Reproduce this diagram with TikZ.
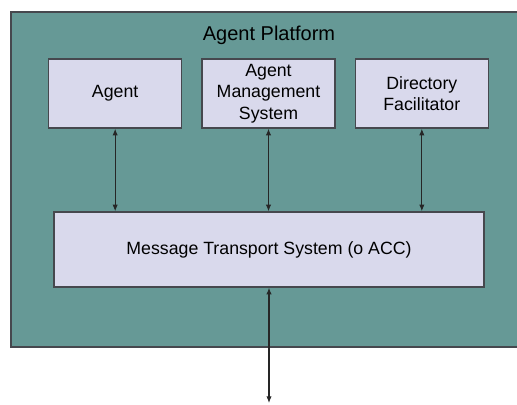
\documentclass[tikz,border=0pt]{standalone}
\usepackage{fontspec}
\setmainfont{Liberation Sans}
\usetikzlibrary{arrows.meta,positioning}
\definecolor{platteal}{RGB}{102,153,150}
\definecolor{boxlilac}{RGB}{217,217,236}
\definecolor{edgegray}{RGB}{70,72,78}
\tikzset{
  basebox/.style={rectangle,draw=edgegray,line width=1pt,fill=boxlilac,align=center,font=\fontsize{13.3}{16.2}\selectfont,inner sep=2pt},
  modbox/.style={basebox,minimum width=99.75pt,minimum height=51.75pt},
  mtsbox/.style={basebox,minimum width=322.5pt,minimum height=56.25pt},
  platbox/.style={draw=edgegray,line width=1.2pt,fill=platteal},
  biarr/.style={{Latex[length=5pt,width=4pt]}-{Latex[length=5pt,width=4pt]},line width=0.8pt,color=black!85}
}
\begin{document}
\begin{tikzpicture}[x=0.75pt,y=-0.75pt]
  \useasboundingbox (0,0) rectangle (517,404);
  \draw[platbox] (11,12) rectangle (530,347);
  \node[font=\fontsize{15}{17}\selectfont] (title) at (269,35) {Agent Platform};
  \node[modbox] (ams) at (268.5,93.5) {Agent\\Management\\System};
  \node[modbox,left=14.25pt of ams] (agent) {Agent};
  \node[modbox,right=14.25pt of ams] (df) {Directory\\Facilitator};
  \node[mtsbox] (mts) at (269,249.5) {Message Transport System (o ACC)};
  \coordinate (ext) at (269,403);
  \draw[biarr] (agent) -- (agent |- mts.north);
  \draw[biarr] (ams) -- (ams |- mts.north);
  \draw[biarr] (df) -- (df |- mts.north);
  \draw[biarr] (mts) -- (ext);
\end{tikzpicture}
\end{document}
